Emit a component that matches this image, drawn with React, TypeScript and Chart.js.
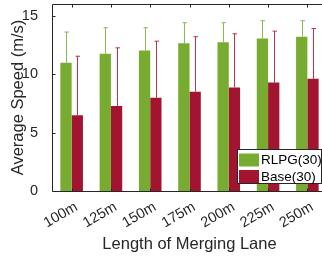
import React, { useEffect, useRef } from "react";
import { Chart, registerables } from "chart.js";

Chart.register(...registerables);

const categories = ["100m", "125m", "150m", "175m", "200m", "225m", "250m"];
const rlpgValues = [10.97, 11.74, 12.02, 12.65, 12.73, 13.05, 13.2];
const rlpgErrTop = [13.6, 13.97, 13.97, 14.4, 14.4, 14.57, 14.57];
const baseValues = [6.48, 7.28, 7.97, 8.5, 8.85, 9.28, 9.6];
const baseErrTop = [11.53, 12.25, 12.82, 13.2, 13.45, 13.68, 13.9];
const yTicks = [0, 5, 10, 15];
const seriesLabels = ["RLPG(30)", "Base(30)"];

const GREEN = "#77AC30";
const RED = "#A2142F";
const GREEN_ERR = "#8DBB50";
const RED_ERR = "#B8344F";
const TEXT = "#262626";
const FONT = "'Liberation Sans', Arial, sans-serif";

export default function App() {
  const ref = useRef<HTMLCanvasElement | null>(null);
  useEffect(() => {
    if (!ref.current) return;
    const errTops = [rlpgErrTop, baseErrTop];
    const errColors = [GREEN_ERR, RED_ERR];
    const chart = new Chart(ref.current, {
      type: "bar",
      data: {
        labels: categories,
        datasets: [
          { label: seriesLabels[0], data: rlpgValues, backgroundColor: GREEN },
          { label: seriesLabels[1], data: baseValues, backgroundColor: RED },
        ],
      },
      options: {
        responsive: false,
        animation: false,
        layout: { padding: { left: 0, right: 8, top: 4, bottom: 0 } },
        plugins: { legend: { display: false }, tooltip: { enabled: false } },
        datasets: { bar: { categoryPercentage: 0.575, barPercentage: 1 } },
        scales: {
          x: {
            grid: { display: false },
            border: { display: false },
            ticks: { display: false },
            title: {
              display: true,
              text: "Length of Merging Lane",
              color: TEXT,
              font: { family: FONT, size: 16.5 },
              padding: { top: 0, bottom: 3 },
            },
            afterFit: (s: any) => {
              s.height = 66;
              s.paddingLeft = 0;
              s.paddingRight = 0;
            },
          },
          y: {
            min: 0,
            max: 16,
            grid: { display: false },
            border: { display: false },
            afterBuildTicks: (s: any) => {
              s.ticks = yTicks.map((v) => ({ value: v }));
            },
            ticks: {
              color: TEXT,
              font: { family: FONT, size: 14.5 },
              padding: 6,
            },
            title: {
              display: true,
              text: "Average Speed (m/s)",
              color: TEXT,
              font: { family: FONT, size: 16.5 },
              padding: { top: 8.5, bottom: 0 },
            },
            afterFit: (s: any) => {
              s.width = 52;
              s.paddingTop = 0;
              s.paddingBottom = 0;
            },
          },
        },
      },
      plugins: [
        {
          id: "errbars",
          afterDatasetsDraw(c: any) {
            const ctx = c.ctx;
            const ys = c.scales.y;
            ctx.save();
            ctx.lineWidth = 1;
            for (let d = 0; d < 2; d++) {
              const meta = c.getDatasetMeta(d);
              ctx.strokeStyle = errColors[d];
              meta.data.forEach((el: any, i: number) => {
                const x = Math.round(el.x) + 0.5;
                const yt = ys.getPixelForValue(errTops[d][i]);
                ctx.beginPath();
                ctx.moveTo(x, el.y);
                ctx.lineTo(x, yt);
                ctx.moveTo(x - 2, yt);
                ctx.lineTo(x + 2.5, yt);
                ctx.stroke();
              });
            }
            ctx.restore();
          },
        },
        {
          id: "frame",
          afterDraw(c: any) {
            const ctx = c.ctx;
            const a = c.chartArea;
            const xs = c.scales.x;
            const ys = c.scales.y;
            ctx.save();
            ctx.strokeStyle = TEXT;
            ctx.lineWidth = 1;
            const L = Math.round(a.left) + 0.5;
            const T = Math.round(a.top) + 0.5;
            const B = Math.round(a.bottom) + 0.5;
            const R = a.right;
            ctx.beginPath();
            ctx.moveTo(R, T);
            ctx.lineTo(L, T);
            ctx.lineTo(L, B);
            ctx.lineTo(R, B);
            yTicks.forEach((v) => {
              const y = Math.round(ys.getPixelForValue(v)) + 0.5;
              ctx.moveTo(L, y);
              ctx.lineTo(L + 3, y);
            });
            categories.forEach((_, i) => {
              const x = Math.round(xs.getPixelForValue(i)) + 0.5;
              ctx.moveTo(x, T);
              ctx.lineTo(x, T + 3);
              ctx.moveTo(x, B);
              ctx.lineTo(x, B - 3);
            });
            ctx.stroke();
            // rotated category labels
            ctx.fillStyle = TEXT;
            ctx.font = `14.5px ${FONT}`;
            ctx.textAlign = "right";
            ctx.textBaseline = "alphabetic";
            categories.forEach((lab, i) => {
              const x = xs.getPixelForValue(i);
              ctx.save();
              ctx.translate(x + 6.8, a.bottom + 18.5);
              ctx.rotate(-Math.PI / 6);
              ctx.fillText(lab, 0, 0);
              ctx.restore();
            });
            // legend
            const lw = 84;
            const lh = 34;
            const lx = Math.round(a.right - 6.3 - lw) + 0.5;
            const ly = Math.round(a.bottom - 8.3 - lh) + 0.5;
            ctx.fillStyle = "#ffffff";
            ctx.fillRect(lx, ly, lw, lh);
            ctx.strokeStyle = TEXT;
            ctx.strokeRect(lx, ly, lw, lh);
            const colors = [GREEN, RED];
            ctx.font = `13.5px ${FONT}`;
            ctx.textBaseline = "middle";
            ctx.textAlign = "left";
            for (let k = 0; k < 2; k++) {
              const top = ly + 4 + k * 16.5;
              ctx.fillStyle = colors[k];
              ctx.fillRect(lx + 1.5, top, 20, 13);
              ctx.fillStyle = "#000000";
              ctx.fillText(seriesLabels[k], lx + 23.5, top + 7);
            }
            ctx.restore();
          },
        },
      ],
    } as any);
    return () => chart.destroy();
  }, []);
  return (
    <div style={{ position: "fixed", left: 0, top: 0, width: 322, height: 257, overflow: "hidden", background: "#fff" }}>
      <canvas ref={ref} width={335} height={257} style={{ display: "block" }} />
    </div>
  );
}
